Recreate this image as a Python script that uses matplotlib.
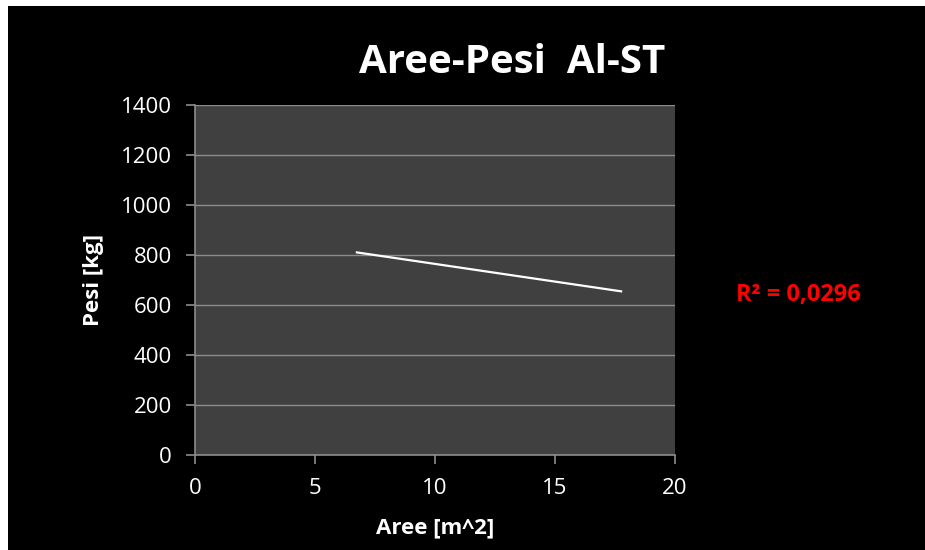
import matplotlib
matplotlib.use("Agg")
import matplotlib.pyplot as plt
from matplotlib.patches import Rectangle

# Trendline endpoints
trend_x = [6.7, 17.8]
trend_y = [811, 654]
r2_text = "R² = 0,0296"
title = "Aree-Pesi  Al-ST"
xlabel = "Aree [m^2]"
ylabel = "Pesi [kg]"
xticks = [0, 5, 10, 15, 20]
yticks = [0, 200, 400, 600, 800, 1000, 1200, 1400]

plt.rcParams['font.family'] = ['Open Sans', 'DejaVu Sans']

fig = plt.figure(figsize=(9.25, 5.5), dpi=100)
fig.patch.set_facecolor('white')
fig.patches.append(Rectangle((8/925, 0), 1, 1 - 6/550, transform=fig.transFigure,
                             facecolor='black', edgecolor='none', zorder=-10))

ax = fig.add_axes([195/925, 1 - 455/550, 480/925, 350/550])
ax.set_zorder(5)
ax.set_facecolor('#404040')
ax.plot(trend_x, trend_y, color='white', lw=1.6, solid_capstyle='butt')
ax.set_xlim(0, 20)
ax.set_ylim(0, 1400)
ax.set_xticks(xticks)
ax.set_yticks(yticks)
ax.grid(axis='y', color='#8c8c8c', lw=1.0)
ax.set_axisbelow(True)
for s in ['top', 'right']:
    ax.spines[s].set_visible(False)
for s in ['left', 'bottom']:
    ax.spines[s].set_color('#8c8c8c')
    ax.spines[s].set_linewidth(1.2)
ax.tick_params(colors='#8c8c8c', labelcolor='white', labelsize=16, length=6.5, width=1.2,
               direction='out')
ax.tick_params(axis='x', pad=10)
ax.tick_params(axis='y', pad=10)

fig.text(512/925, 1 - 62/550, title, color='white', fontsize=29, fontweight='bold',
         ha='center', va='center', zorder=6)
fig.text(435/925, 1 - 528/550, xlabel, color='white', fontsize=16, fontweight='bold',
         ha='center', va='center', zorder=6)
fig.text(93/925, 1 - 280/550, ylabel, color='white', fontsize=16, fontweight='bold',
         ha='center', va='center', rotation=90, zorder=6)
fig.text(798/925, 1 - 295/550, r2_text, color='#ff0000', fontsize=17, fontweight='bold',
         ha='center', va='center', zorder=6)

fig.savefig('out.png', dpi=100)
